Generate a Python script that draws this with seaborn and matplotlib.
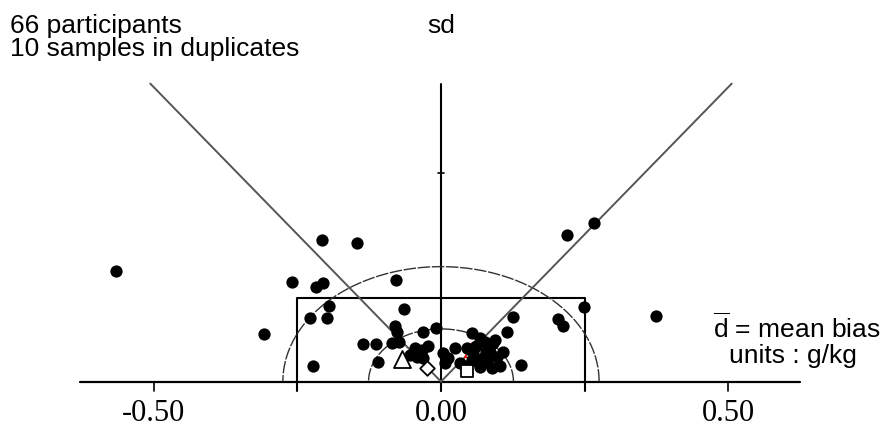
import numpy as np
import pandas as pd
import matplotlib
matplotlib.use("Agg")
import matplotlib.pyplot as plt
import seaborn as sns

# mean bias (d) and sd of each participant
bias_d = [
    -0.565, -0.207, -0.146, -0.259, -0.217, -0.205, -0.078, -0.195, -0.228, -0.198,
    -0.308, -0.064, -0.080, -0.077, -0.031, -0.009, -0.136, -0.113, -0.085, -0.073,
    -0.223, -0.110, -0.045, -0.033, -0.042, -0.031, 0.003, 0.007, 0.024, 0.054,
    0.068, 0.045, 0.056, 0.085, 0.085, 0.073, 0.080, 0.054, 0.033, 0.103,
    0.139, 0.068, 0.089, 0.115, 0.125, 0.219, 0.266, 0.249, 0.203, 0.212,
    0.374, 0.077, 0.090, 0.061, 0.097, 0.078, 0.043, 0.108, -0.023, 0.012,
    -0.054, 0.064, 0.094,
]
sd = [
    0.264, 0.339, 0.331, 0.238, 0.226, 0.236, 0.243, 0.181, 0.152, 0.152,
    0.114, 0.173, 0.133, 0.118, 0.118, 0.128, 0.090, 0.090, 0.092, 0.094,
    0.037, 0.047, 0.080, 0.075, 0.059, 0.056, 0.068, 0.044, 0.080, 0.116,
    0.104, 0.080, 0.071, 0.087, 0.071, 0.056, 0.047, 0.051, 0.044, 0.037,
    0.040, 0.035, 0.032, 0.118, 0.154, 0.350, 0.379, 0.178, 0.150, 0.133,
    0.157, 0.095, 0.092, 0.085, 0.059, 0.071, 0.037, 0.071, 0.085, 0.056,
    0.063, 0.047, 0.099,
]

# special (open) markers
special_names = ["triangle", "diamond", "square"]
special_d = [-0.068, -0.024, 0.045]
special_sd = [0.054, 0.032, 0.025]
red_d = [0.054]
red_sd = [0.075]

# limits of the Youden-type diagram
rect_d = 0.25
rect_sd = 0.20
radius_small = 0.126
radius_large = 0.275
line_slope = 1.41
line_top = 0.713
x_ticks = [-0.5, 0.0, 0.5]
x_tick_labels = ["-0.50", "0.00", "0.50"]
sd_tick = 0.5

df = pd.DataFrame({"d": bias_d, "sd": sd})

sns.set_style("white")
plt.rcParams["font.family"] = ["Liberation Sans", "DejaVu Sans"]
plt.rcParams["text.color"] = "black"
plt.rcParams["mathtext.fontset"] = "custom"
plt.rcParams["mathtext.rm"] = "Liberation Sans"

fig = plt.figure(figsize=(8.82, 4.43), dpi=100)
ax = fig.add_axes([0, 0, 1, 1])
ax.set_xlim(-0.767, 0.767)
ax.set_ylim(-0.147, 0.913)
ax.axis("off")

# axes
ax.plot([-0.628, 0.624], [0, 0], color="black", lw=1.6, zorder=2)
ax.plot([0, 0], [-0.022, line_top], color="black", lw=1.5, zorder=2)
ax.plot([-0.006, 0.006], [sd_tick, sd_tick], color="black", lw=1.2, zorder=2)
for t, lab in zip(x_ticks, x_tick_labels):
    ax.plot([t, t], [0, -0.022], color="black", lw=1.2, zorder=2)
    ax.text(t, -0.077, lab, ha="center", va="center", color="black",
            fontsize=22, family=["Liberation Serif"])

# rectangle
ax.plot([-rect_d, -rect_d, rect_d, rect_d], [-0.022, rect_sd, rect_sd, -0.022],
        color="black", lw=1.5, zorder=2)

# semicircles
theta = np.linspace(0, np.pi, 200)
for r in (radius_small, radius_large):
    ax.plot(r * np.cos(theta), r * np.sin(theta), color="#333333", lw=1.0,
            ls=(0, (9, 1.2)), zorder=2)

# diagonal limit lines
for sgn in (-1, 1):
    ax.plot([0, sgn * line_top / line_slope], [0, line_top], color="#555555",
            lw=1.4, zorder=2)

# red marker behind the cluster
ax.scatter(red_d, red_sd, marker="^", s=110, facecolors="none",
           edgecolors="red", linewidths=1.0, zorder=3)

sns.scatterplot(data=df, x="d", y="sd", color="black", s=78, edgecolor="black",
                linewidth=0, ax=ax, zorder=4, legend=False)

for name, xd, ys in zip(special_names, special_d, special_sd):
    mk = {"triangle": "^", "diamond": "D", "square": "s"}[name]
    size = {"triangle": 150, "diamond": 55, "square": 70}[name]
    ax.scatter([xd], [ys], marker=mk, s=size, facecolors="white",
               edgecolors="black", linewidths=1.3, zorder=5)

ax.set_xlabel("")
ax.set_ylabel("")

fig.text(10 / 882, 1 - 33 / 443, "66 participants", fontsize=19, va="baseline")
fig.text(10 / 882, 1 - 56 / 443, "10 samples in duplicates", fontsize=19,
         va="baseline")
fig.text(441 / 882, 1 - 33 / 443, "sd", fontsize=19, va="baseline", ha="center")
fig.text(713 / 882, 1 - 338 / 443, r"$\overline{\mathrm{d}}$ = mean bias",
         fontsize=19, va="baseline")
fig.text(729 / 882, 1 - 363 / 443, "units : g/kg", fontsize=19, va="baseline")

fig.savefig("out.png", dpi=100)
